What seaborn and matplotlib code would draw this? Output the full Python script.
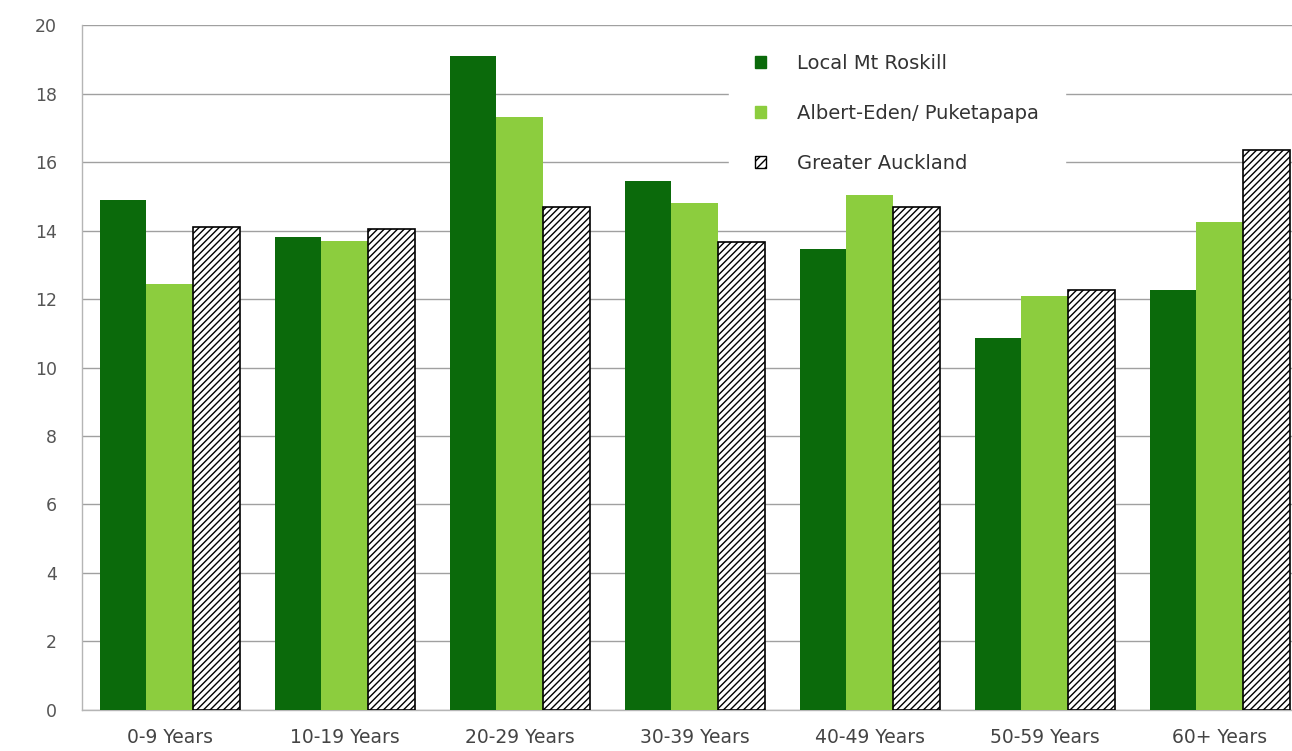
import numpy as np
import pandas as pd
import matplotlib
matplotlib.use("Agg")
import matplotlib.pyplot as plt
from matplotlib.patches import Patch
import seaborn as sns

# data
age_groups = ["0-9 Years", "10-19 Years", "20-29 Years", "30-39 Years",
              "40-49 Years", "50-59 Years", "60+ Years"]
series_names = ["Local Mt Roskill", "Albert-Eden/ Puketapapa", "Greater Auckland"]
mt_roskill = [14.9, 13.8, 19.1, 15.45, 13.45, 10.85, 12.25]
albert_eden = [12.45, 13.7, 17.3, 14.8, 15.05, 12.1, 14.25]
greater_akl = [14.1, 14.05, 14.7, 13.65, 14.7, 12.25, 16.35]

df = pd.DataFrame({
    "group": age_groups * 3,
    "series": [series_names[0]] * 7 + [series_names[1]] * 7 + [series_names[2]] * 7,
    "value": mt_roskill + albert_eden + greater_akl,
})

colors = ["#0b6a0b", "#8ccd3e", "white"]

sns.set_style("white")
plt.rcParams["font.family"] = ["DejaVu Sans"]

fig = plt.figure(figsize=(12.92, 7.51), dpi=100)
ax = fig.add_axes([0.0635, 0.0546, 0.9365, 0.9121])

sns.barplot(data=df, x="group", y="value", hue="series", palette=colors,
            width=0.8, saturation=1, ax=ax, legend=False, zorder=3)

# hatched third series
for bar in ax.containers[2]:
    bar.set_hatch("/////")
    bar.set_edgecolor("black")
    bar.set_linewidth(1.2)
for c in ax.containers[:2]:
    for bar in c:
        bar.set_linewidth(0)

ax.set_ylim(0, 20)
ax.set_xlim(-0.5, 6.414)
ax.set_yticks(np.arange(0, 21, 2))
ax.yaxis.grid(True, color="#a0a0a0", linewidth=1.0, zorder=0)
ax.set_axisbelow(True)
ax.set_xlabel("")
ax.set_ylabel("")

for s in ["top", "right"]:
    ax.spines[s].set_visible(False)
for s in ["left", "bottom"]:
    ax.spines[s].set_color("#b5b5b5")
    ax.spines[s].set_linewidth(1.0)

ax.tick_params(axis="y", labelsize=12.5, colors="#555555", length=6, width=1, color="#b5b5b5", pad=12)
ax.tick_params(axis="x", labelsize=13.5, colors="#444444", length=0, pad=13)

# small tick marks between groups on x axis
ax.set_xticks(np.arange(0.5, 6.5, 1), minor=True)
ax.tick_params(axis="x", which="minor", length=5, color="#b5b5b5")

handles = [
    Patch(facecolor=colors[0], edgecolor=colors[0]),
    Patch(facecolor=colors[1], edgecolor=colors[1]),
    Patch(facecolor="white", edgecolor="black", hatch="////"),
]
leg = ax.legend(handles, series_names, loc="upper left", bbox_to_anchor=(0.535, 0.995),
                frameon=True, fontsize=14, handlelength=0.6, handleheight=0.6,
                handletextpad=1.6, labelspacing=1.6, borderpad=1.3, borderaxespad=0)
leg.get_frame().set_facecolor("white")
leg.get_frame().set_edgecolor("white")
leg.get_frame().set_alpha(1)
leg.set_zorder(2)
for t in leg.get_texts():
    t.set_color("#333333")

fig.savefig("out.png", dpi=100)
